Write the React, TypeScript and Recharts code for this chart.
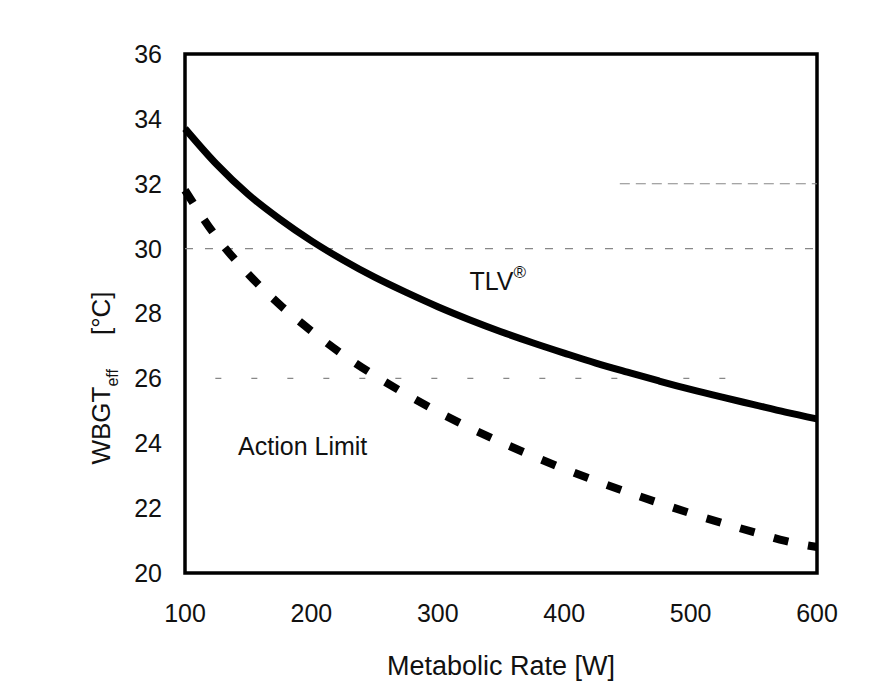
import React from 'react';
import { LineChart, Line, XAxis, YAxis, ReferenceLine, ReferenceArea, ReferenceDot } from 'recharts';

const metabolicRate = [100, 125, 150, 175, 200, 225, 250, 275, 300, 325, 350, 375, 400, 425, 450, 475, 500, 525, 550, 575, 600];
const tlv = [33.7, 32.6, 31.67, 30.91, 30.24, 29.65, 29.12, 28.65, 28.21, 27.81, 27.44, 27.1, 26.78, 26.47, 26.19, 25.92, 25.66, 25.42, 25.19, 24.96, 24.75];
const actionLimit = [31.8, 30.35, 29.22, 28.27, 27.46, 26.73, 26.09, 25.51, 24.97, 24.48, 24.03, 23.61, 23.21, 22.84, 22.49, 22.16, 21.84, 21.54, 21.26, 20.99, 20.8];

const xTicks = [100, 200, 300, 400, 500, 600];
const yTicks = [20, 22, 24, 26, 28, 30, 32, 34, 36];

const data = metabolicRate.map((m, i) => ({ m, tlv: tlv[i], action: actionLimit[i] }));

const FONT = '"Liberation Sans", Arial, sans-serif';

const YLabel = () => (
  <text x={102} y={370} transform="rotate(-90, 102, 370)" textAnchor="middle" fontFamily={FONT} fontSize={26} fill="#111">
    <tspan>WBGT</tspan>
    <tspan fontSize={16} dy={8}>eff</tspan>
    <tspan dy={-8} dx={34}>[°C]</tspan>
  </text>
);

const App: React.FC = () => {
  return (
    <div style={{ width: 867, height: 684, background: '#fff', fontFamily: FONT }}>
      <LineChart width={867} height={684} data={data} margin={{ top: 46, right: 58, bottom: 59, left: 100 }}>
        <XAxis
          dataKey="m"
          type="number"
          domain={[100, 600]}
          ticks={xTicks}
          axisLine={false}
          tickLine={false}
          tickMargin={25}
          height={60}
          tick={{ fill: '#111', fontSize: 25, fontFamily: FONT }}
          label={(props: any) => {
            const vb = props.viewBox;
            return (
              <text x={vb.x + vb.width / 2} y={667} textAnchor="middle" fontFamily={FONT} fontSize={27} fill="#111">
                Metabolic Rate [W]
              </text>
            );
          }}
        />
        <YAxis
          type="number"
          domain={[20, 36]}
          ticks={yTicks}
          axisLine={false}
          tickLine={false}
          tickMargin={17}
          width={77}
          tick={{ fill: '#111', fontSize: 25, fontFamily: FONT }}
          label={<YLabel />}
        />
        <ReferenceLine y={30} stroke="#888" strokeWidth={1.2} strokeDasharray="8 12" />
        <ReferenceLine segment={[{ x: 124, y: 26 }, { x: 547, y: 26 }]} stroke="#888" strokeWidth={1.2} strokeDasharray="6 30" />
        <ReferenceLine segment={[{ x: 444, y: 32 }, { x: 600, y: 32 }]} stroke="#888" strokeWidth={1.2} strokeDasharray="10 6" />
        <ReferenceArea x1={100} x2={600} y1={20} y2={36} fill="none" fillOpacity={0} stroke="#000" strokeWidth={3.5} />
        <Line type="monotone" dataKey="tlv" stroke="#000" strokeWidth={7} dot={false} isAnimationActive={false} />
        <Line type="monotone" dataKey="action" stroke="#000" strokeWidth={8} strokeDasharray="15 20" dot={false} isAnimationActive={false} />
        <ReferenceDot
          x={325}
          y={28.72}
          r={0}
          stroke="none"
          label={(props: any) => (
            <text x={props.viewBox.x} y={props.viewBox.y} fontFamily={FONT} fontSize={25} fill="#111">
              TLV<tspan fontSize={17} dy={-12}>®</tspan>
            </text>
          )}
        />
        <ReferenceDot
          x={142}
          y={23.64}
          r={0}
          stroke="none"
          label={(props: any) => (
            <text x={props.viewBox.x} y={props.viewBox.y} fontFamily={FONT} fontSize={25} fill="#111">
              Action Limit
            </text>
          )}
        />
      </LineChart>
    </div>
  );
};

export default App;
